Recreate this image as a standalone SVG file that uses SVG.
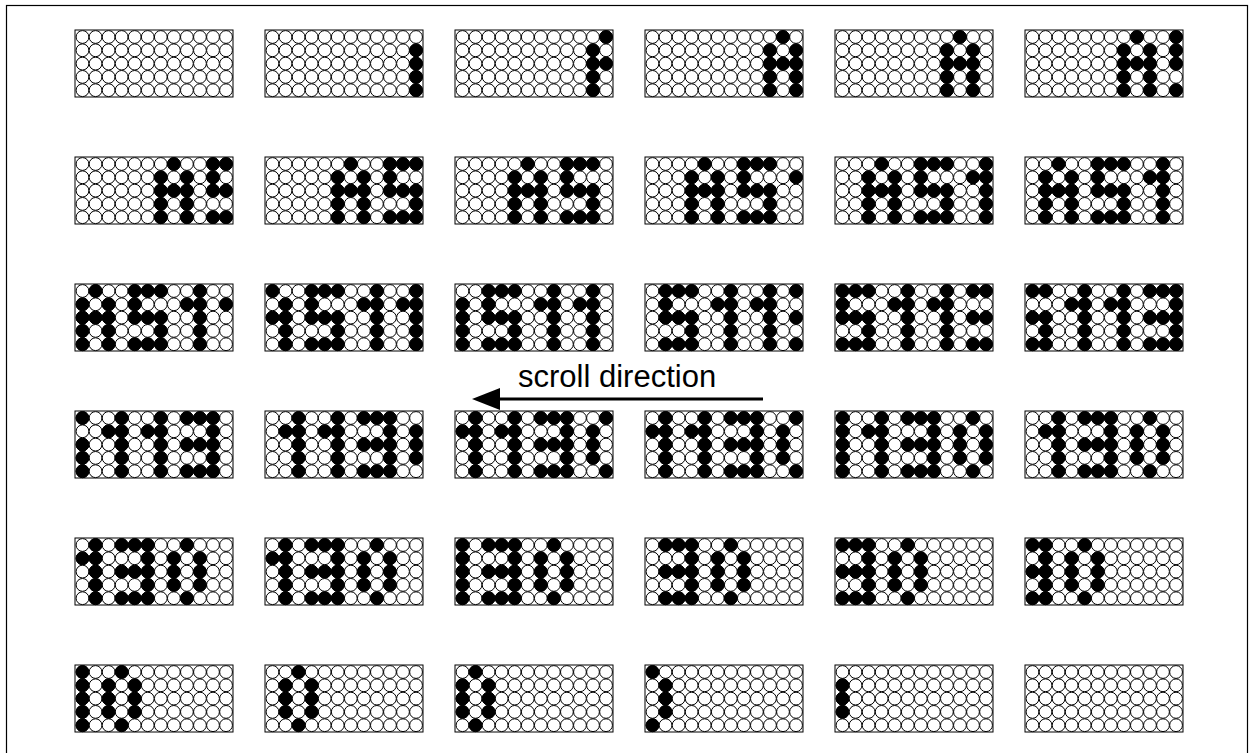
<svg xmlns="http://www.w3.org/2000/svg" width="1254" height="753" viewBox="0 0 1254 753">
<style>
.o{fill:#fff;stroke:#000;stroke-width:1}
.f{fill:#000;stroke:#000;stroke-width:1}
.box{fill:#fff;stroke:#000;stroke-width:1}
.frame{fill:none;stroke:#000;stroke-width:1.2}
.lbl{font-family:"Liberation Sans",Arial,sans-serif;font-size:31px;fill:#000}
.conn{stroke:#000;stroke-width:3;fill:none}
.head{fill:#000;stroke:none}
</style>
<defs>
<g id="row">
<circle class="o" cx="7.5" cy="7" r="6.4"/><circle class="o" cx="20.55" cy="7" r="6.4"/><circle class="o" cx="33.6" cy="7" r="6.4"/><circle class="o" cx="46.65" cy="7" r="6.4"/><circle class="o" cx="59.7" cy="7" r="6.4"/><circle class="o" cx="72.75" cy="7" r="6.4"/><circle class="o" cx="85.8" cy="7" r="6.4"/><circle class="o" cx="98.85" cy="7" r="6.4"/><circle class="o" cx="111.9" cy="7" r="6.4"/><circle class="o" cx="124.95" cy="7" r="6.4"/><circle class="o" cx="138" cy="7" r="6.4"/><circle class="o" cx="151.05" cy="7" r="6.4"/>
</g>
<g id="grid">
<rect class="box" x="0" y="0" width="158" height="67"/>
<use href="#row"/><use href="#row" y="13.3"/><use href="#row" y="26.6"/><use href="#row" y="39.9"/><use href="#row" y="53.2"/>
</g>
<g id="a0"><circle class="f" cx="0" cy="20.3" r="6.4"/><circle class="f" cx="0" cy="33.6" r="6.4"/><circle class="f" cx="0" cy="46.9" r="6.4"/><circle class="f" cx="0" cy="60.2" r="6.4"/></g>
<g id="a1"><circle class="f" cx="0" cy="7" r="6.4"/><circle class="f" cx="0" cy="33.6" r="6.4"/></g>
<g id="s0"><circle class="f" cx="0" cy="7" r="6.4"/><circle class="f" cx="0" cy="20.3" r="6.4"/><circle class="f" cx="0" cy="33.6" r="6.4"/><circle class="f" cx="0" cy="60.2" r="6.4"/></g>
<g id="e"><circle class="f" cx="0" cy="7" r="6.4"/><circle class="f" cx="0" cy="33.6" r="6.4"/><circle class="f" cx="0" cy="60.2" r="6.4"/></g>
<g id="s2"><circle class="f" cx="0" cy="7" r="6.4"/><circle class="f" cx="0" cy="33.6" r="6.4"/><circle class="f" cx="0" cy="46.9" r="6.4"/><circle class="f" cx="0" cy="60.2" r="6.4"/></g>
<g id="fl"><circle class="f" cx="0" cy="20.3" r="6.4"/></g>
<g id="F"><circle class="f" cx="0" cy="7" r="6.4"/><circle class="f" cx="0" cy="20.3" r="6.4"/><circle class="f" cx="0" cy="33.6" r="6.4"/><circle class="f" cx="0" cy="46.9" r="6.4"/><circle class="f" cx="0" cy="60.2" r="6.4"/></g>
<g id="o0"><circle class="f" cx="0" cy="20.3" r="6.4"/><circle class="f" cx="0" cy="33.6" r="6.4"/><circle class="f" cx="0" cy="46.9" r="6.4"/></g>
<g id="o1"><circle class="f" cx="0" cy="7" r="6.4"/><circle class="f" cx="0" cy="60.2" r="6.4"/></g>
</defs>
<rect class="frame" x="6.5" y="5.5" width="1241" height="770"/>
<g id="panel-1" transform="translate(75,30)"><use href="#grid"/></g>
<g id="panel-2" transform="translate(265,30)"><use href="#grid"/><use href="#a0" x="151.05"/></g>
<g id="panel-3" transform="translate(455,30)"><use href="#grid"/><use href="#a0" x="138"/><use href="#a1" x="151.05"/></g>
<g id="panel-4" transform="translate(645,30)"><use href="#grid"/><use href="#a0" x="124.95"/><use href="#a1" x="138"/><use href="#a0" x="151.05"/></g>
<g id="panel-5" transform="translate(835,30)"><use href="#grid"/><use href="#a0" x="111.9"/><use href="#a1" x="124.95"/><use href="#a0" x="138"/></g>
<g id="panel-6" transform="translate(1025,30)"><use href="#grid"/><use href="#a0" x="98.85"/><use href="#a1" x="111.9"/><use href="#a0" x="124.95"/><use href="#s0" x="151.05"/></g>
<g id="panel-7" transform="translate(75,157)"><use href="#grid"/><use href="#a0" x="85.8"/><use href="#a1" x="98.85"/><use href="#a0" x="111.9"/><use href="#s0" x="138"/><use href="#e" x="151.05"/></g>
<g id="panel-8" transform="translate(265,157)"><use href="#grid"/><use href="#a0" x="72.75"/><use href="#a1" x="85.8"/><use href="#a0" x="98.85"/><use href="#s0" x="124.95"/><use href="#e" x="138"/><use href="#s2" x="151.05"/></g>
<g id="panel-9" transform="translate(455,157)"><use href="#grid"/><use href="#a0" x="59.7"/><use href="#a1" x="72.75"/><use href="#a0" x="85.8"/><use href="#s0" x="111.9"/><use href="#e" x="124.95"/><use href="#s2" x="138"/></g>
<g id="panel-10" transform="translate(645,157)"><use href="#grid"/><use href="#a0" x="46.65"/><use href="#a1" x="59.7"/><use href="#a0" x="72.75"/><use href="#s0" x="98.85"/><use href="#e" x="111.9"/><use href="#s2" x="124.95"/><use href="#fl" x="151.05"/></g>
<g id="panel-11" transform="translate(835,157)"><use href="#grid"/><use href="#a0" x="33.6"/><use href="#a1" x="46.65"/><use href="#a0" x="59.7"/><use href="#s0" x="85.8"/><use href="#e" x="98.85"/><use href="#s2" x="111.9"/><use href="#fl" x="138"/><use href="#F" x="151.05"/></g>
<g id="panel-12" transform="translate(1025,157)"><use href="#grid"/><use href="#a0" x="20.55"/><use href="#a1" x="33.6"/><use href="#a0" x="46.65"/><use href="#s0" x="72.75"/><use href="#e" x="85.8"/><use href="#s2" x="98.85"/><use href="#fl" x="124.95"/><use href="#F" x="138"/></g>
<g id="panel-13" transform="translate(75,284)"><use href="#grid"/><use href="#a0" x="7.5"/><use href="#a1" x="20.55"/><use href="#a0" x="33.6"/><use href="#s0" x="59.7"/><use href="#e" x="72.75"/><use href="#s2" x="85.8"/><use href="#fl" x="111.9"/><use href="#F" x="124.95"/><use href="#fl" x="151.05"/></g>
<g id="panel-14" transform="translate(265,284)"><use href="#grid"/><use href="#a1" x="7.5"/><use href="#a0" x="20.55"/><use href="#s0" x="46.65"/><use href="#e" x="59.7"/><use href="#s2" x="72.75"/><use href="#fl" x="98.85"/><use href="#F" x="111.9"/><use href="#fl" x="138"/><use href="#F" x="151.05"/></g>
<g id="panel-15" transform="translate(455,284)"><use href="#grid"/><use href="#a0" x="7.5"/><use href="#s0" x="33.6"/><use href="#e" x="46.65"/><use href="#s2" x="59.7"/><use href="#fl" x="85.8"/><use href="#F" x="98.85"/><use href="#fl" x="124.95"/><use href="#F" x="138"/></g>
<g id="panel-16" transform="translate(645,284)"><use href="#grid"/><use href="#s0" x="20.55"/><use href="#e" x="33.6"/><use href="#s2" x="46.65"/><use href="#fl" x="72.75"/><use href="#F" x="85.8"/><use href="#fl" x="111.9"/><use href="#F" x="124.95"/><use href="#e" x="151.05"/></g>
<g id="panel-17" transform="translate(835,284)"><use href="#grid"/><use href="#s0" x="7.5"/><use href="#e" x="20.55"/><use href="#s2" x="33.6"/><use href="#fl" x="59.7"/><use href="#F" x="72.75"/><use href="#fl" x="98.85"/><use href="#F" x="111.9"/><use href="#e" x="138"/><use href="#e" x="151.05"/></g>
<g id="panel-18" transform="translate(1025,284)"><use href="#grid"/><use href="#e" x="7.5"/><use href="#s2" x="20.55"/><use href="#fl" x="46.65"/><use href="#F" x="59.7"/><use href="#fl" x="85.8"/><use href="#F" x="98.85"/><use href="#e" x="124.95"/><use href="#e" x="138"/><use href="#F" x="151.05"/></g>
<g id="panel-19" transform="translate(75,411)"><use href="#grid"/><use href="#s2" x="7.5"/><use href="#fl" x="33.6"/><use href="#F" x="46.65"/><use href="#fl" x="72.75"/><use href="#F" x="85.8"/><use href="#e" x="111.9"/><use href="#e" x="124.95"/><use href="#F" x="138"/></g>
<g id="panel-20" transform="translate(265,411)"><use href="#grid"/><use href="#fl" x="20.55"/><use href="#F" x="33.6"/><use href="#fl" x="59.7"/><use href="#F" x="72.75"/><use href="#e" x="98.85"/><use href="#e" x="111.9"/><use href="#F" x="124.95"/><use href="#o0" x="151.05"/></g>
<g id="panel-21" transform="translate(455,411)"><use href="#grid"/><use href="#fl" x="7.5"/><use href="#F" x="20.55"/><use href="#fl" x="46.65"/><use href="#F" x="59.7"/><use href="#e" x="85.8"/><use href="#e" x="98.85"/><use href="#F" x="111.9"/><use href="#o0" x="138"/><use href="#o1" x="151.05"/></g>
<g id="panel-22" transform="translate(645,411)"><use href="#grid"/><use href="#fl" x="7.5"/><use href="#F" x="20.55"/><use href="#fl" x="46.65"/><use href="#F" x="59.7"/><use href="#e" x="85.8"/><use href="#e" x="98.85"/><use href="#F" x="111.9"/><use href="#o0" x="138"/><use href="#o1" x="151.05"/></g>
<g id="panel-23" transform="translate(835,411)"><use href="#grid"/><use href="#F" x="7.5"/><use href="#fl" x="33.6"/><use href="#F" x="46.65"/><use href="#e" x="72.75"/><use href="#e" x="85.8"/><use href="#F" x="98.85"/><use href="#o0" x="124.95"/><use href="#o1" x="138"/><use href="#o0" x="151.05"/></g>
<g id="panel-24" transform="translate(1025,411)"><use href="#grid"/><use href="#fl" x="20.55"/><use href="#F" x="33.6"/><use href="#e" x="59.7"/><use href="#e" x="72.75"/><use href="#F" x="85.8"/><use href="#o0" x="111.9"/><use href="#o1" x="124.95"/><use href="#o0" x="138"/></g>
<g id="panel-25" transform="translate(75,538)"><use href="#grid"/><use href="#fl" x="7.5"/><use href="#F" x="20.55"/><use href="#e" x="46.65"/><use href="#e" x="59.7"/><use href="#F" x="72.75"/><use href="#o0" x="98.85"/><use href="#o1" x="111.9"/><use href="#o0" x="124.95"/></g>
<g id="panel-26" transform="translate(265,538)"><use href="#grid"/><use href="#fl" x="7.5"/><use href="#F" x="20.55"/><use href="#e" x="46.65"/><use href="#e" x="59.7"/><use href="#F" x="72.75"/><use href="#o0" x="98.85"/><use href="#o1" x="111.9"/><use href="#o0" x="124.95"/></g>
<g id="panel-27" transform="translate(455,538)"><use href="#grid"/><use href="#F" x="7.5"/><use href="#e" x="33.6"/><use href="#e" x="46.65"/><use href="#F" x="59.7"/><use href="#o0" x="85.8"/><use href="#o1" x="98.85"/><use href="#o0" x="111.9"/></g>
<g id="panel-28" transform="translate(645,538)"><use href="#grid"/><use href="#e" x="20.55"/><use href="#e" x="33.6"/><use href="#F" x="46.65"/><use href="#o0" x="72.75"/><use href="#o1" x="85.8"/><use href="#o0" x="98.85"/></g>
<g id="panel-29" transform="translate(835,538)"><use href="#grid"/><use href="#e" x="7.5"/><use href="#e" x="20.55"/><use href="#F" x="33.6"/><use href="#o0" x="59.7"/><use href="#o1" x="72.75"/><use href="#o0" x="85.8"/></g>
<g id="panel-30" transform="translate(1025,538)"><use href="#grid"/><use href="#e" x="7.5"/><use href="#F" x="20.55"/><use href="#o0" x="46.65"/><use href="#o1" x="59.7"/><use href="#o0" x="72.75"/></g>
<g id="panel-31" transform="translate(75,665)"><use href="#grid"/><use href="#F" x="7.5"/><use href="#o0" x="33.6"/><use href="#o1" x="46.65"/><use href="#o0" x="59.7"/></g>
<g id="panel-32" transform="translate(265,665)"><use href="#grid"/><use href="#o0" x="20.55"/><use href="#o1" x="33.6"/><use href="#o0" x="46.65"/></g>
<g id="panel-33" transform="translate(455,665)"><use href="#grid"/><use href="#o0" x="7.5"/><use href="#o1" x="20.55"/><use href="#o0" x="33.6"/></g>
<g id="panel-34" transform="translate(645,665)"><use href="#grid"/><use href="#o1" x="7.5"/><use href="#o0" x="20.55"/></g>
<g id="panel-35" transform="translate(835,665)"><use href="#grid"/><use href="#o0" x="7.5"/></g>
<g id="panel-36" transform="translate(1025,665)"><use href="#grid"/></g>
<g id="connectors">
<line class="conn" x1="763" y1="399" x2="496" y2="399"/>
<path class="head" d="M472,399 L500,388 L500,410 Z"/>
</g>
<g id="label"><text class="lbl" x="518" y="387">scroll direction</text></g>
</svg>
